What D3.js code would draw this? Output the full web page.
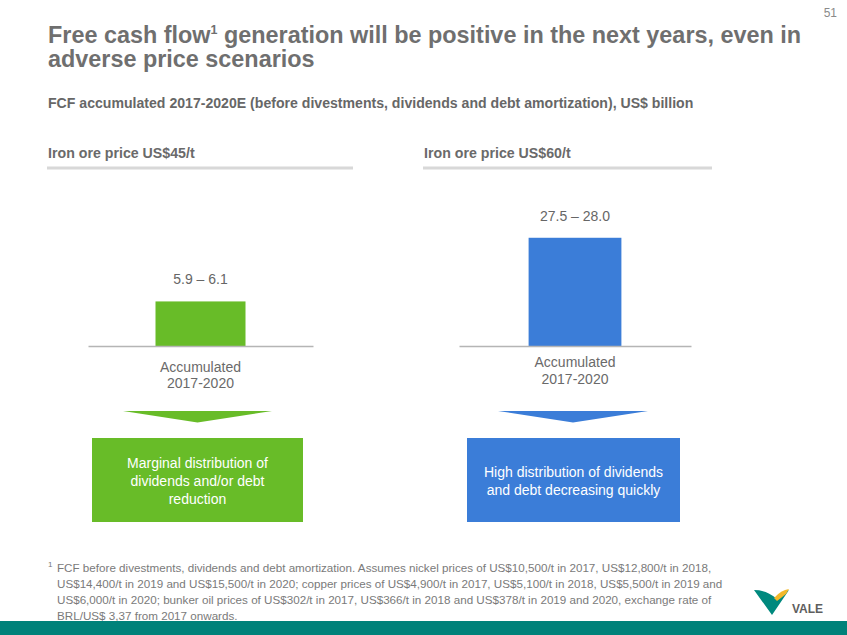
<!DOCTYPE html>
<html><head><meta charset="utf-8">
<script src="https://cdn.jsdelivr.net/npm/d3@7"></script>
<style>
html,body{margin:0;padding:0;background:#fff;}
svg{display:block;font-family:"Liberation Sans",Arial,sans-serif;}
</style></head>
<body><svg id="c" width="847" height="635"></svg>
<script>
// ---- data ----
const scenarios = ["Iron ore price US$45/t", "Iron ore price US$60/t"];
const categories = ["Accumulated 2017-2020"];
const fcfLow = [5.9, 27.5];
const fcfHigh = [6.1, 28.0];
const valueLabels = ["5.9 – 6.1", "27.5 – 28.0"];
const axisMax = [21, 40];
const outcomeTexts = [
  ["Marginal distribution of", "dividends and/or debt", "reduction"],
  ["High distribution of dividends", "and debt decreasing quickly"]
];
const colors = ["#68bc28", "#3b7dd8"];

const titleLines = ["Free cash flow", " generation will be positive in the next years, even in", "adverse price scenarios"];
const subtitle = "FCF accumulated 2017-2020E (before divestments, dividends and debt amortization), US$ billion";
const footLines = [
  "FCF before divestments, dividends and debt amortization. Assumes nickel prices of US$10,500/t in 2017, US$12,800/t in 2018,",
  "US$14,400/t in 2019 and US$15,500/t in 2020; copper prices of US$4,900/t in 2017, US$5,100/t in 2018, US$5,500/t in 2019 and",
  "US$6,000/t in 2020; bunker oil prices of US$302/t in 2017, US$366/t in 2018 and US$378/t in 2019 and 2020, exchange rate of",
  "BRL/US$ 3,37 from 2017 onwards."
];

// ---- layout ----
const svg = d3.select("#c");
const gray = "#6f6f6f";
const panels = [
  {hx: 48, hx2: 353, ax0: 88, ax1: 313, catDy: [26, 42], box: [92, 303], arrow: [123, 272]},
  {hx: 424, hx2: 712, ax0: 459, ax1: 691, catDy: [21, 38], box: [467, 680], arrow: [498, 648]}
];
const axisY = 346, plotTop = 190;

// page number
svg.append("text").attr("x", 837).attr("y", 17).attr("text-anchor", "end")
  .attr("font-size", 12).attr("fill", "#8a8a8a").text("51");

// title
const t1 = svg.append("text").attr("x", 48).attr("y", 43).attr("font-size", 23.4)
  .attr("font-weight", "bold").attr("fill", gray);
t1.append("tspan").text(titleLines[0]);
t1.append("tspan").attr("font-size", 12.5).attr("dy", -9).text("1");
t1.append("tspan").attr("dy", 9).text(titleLines[1]);
svg.append("text").attr("x", 48).attr("y", 67).attr("font-size", 23.4)
  .attr("font-weight", "bold").attr("fill", gray).text(titleLines[2]);

// subtitle
svg.append("text").attr("x", 48).attr("y", 108).attr("font-size", 14.1)
  .attr("font-weight", "bold").attr("fill", "#676767").text(subtitle);

panels.forEach((p, i) => {
  // header
  svg.append("text").attr("x", p.hx).attr("y", 158).attr("font-size", 14.2)
    .attr("font-weight", "bold").attr("fill", "#6a6a6a").text(scenarios[i]);
  svg.append("line").attr("x1", p.hx - 1).attr("x2", p.hx2).attr("y1", 168).attr("y2", 168)
    .attr("stroke", "#d8d8d8").attr("stroke-width", 3);

  const x = d3.scaleBand().domain(categories).range([p.ax0, p.ax1])
    .paddingInner(0.6).paddingOuter(0.3);
  const y = d3.scaleLinear().domain([0, axisMax[i]]).range([axisY, plotTop]);
  const v = (fcfLow[i] + fcfHigh[i]) / 2;
  const g = svg.append("g");

  g.selectAll("rect.bar").data([v]).join("rect").attr("class", "bar")
    .attr("x", x(categories[0])).attr("width", x.bandwidth())
    .attr("y", d => y(d)).attr("height", d => y(0) - y(d))
    .attr("fill", colors[i]);

  const xAxis = d3.axisBottom(x).tickSize(0).tickFormat("");
  const ag = g.append("g").attr("transform", `translate(0,${axisY})`).call(xAxis);
  ag.select(".domain").attr("stroke", "#b5b5b5").attr("stroke-width", 1.5);

  const cx = x(categories[0]) + x.bandwidth() / 2;
  g.append("text").attr("x", cx).attr("y", y(v) - 17).attr("text-anchor", "middle")
    .attr("font-size", 14).attr("fill", "#666").text(valueLabels[i]);

  const parts = ["Accumulated", "2017-2020"];
  parts.forEach((s, k) => {
    g.append("text").attr("x", cx).attr("y", axisY + p.catDy[k]).attr("text-anchor", "middle")
      .attr("font-size", 14).attr("fill", "#6a6a6a").text(s);
  });

  // arrow
  const am = (p.arrow[0] + p.arrow[1]) / 2;
  svg.append("path")
    .attr("d", `M${p.arrow[0]},411 L${p.arrow[1]},411 L${am},422.5 Z`)
    .attr("fill", colors[i]);

  // box
  svg.append("rect").attr("x", p.box[0]).attr("y", 438).attr("width", p.box[1] - p.box[0])
    .attr("height", 84).attr("fill", colors[i]);
  const bc = (p.box[0] + p.box[1]) / 2;
  const lines = outcomeTexts[i];
  const lh = 18;
  const startY = 481 - (lines.length - 1) * lh / 2 + 5;
  lines.forEach((s, k) => {
    svg.append("text").attr("x", bc).attr("y", startY + k * lh).attr("text-anchor", "middle")
      .attr("font-size", 14).attr("fill", "#fff").text(s);
  });
});

// footnote
svg.append("text").attr("x", 48).attr("y", 567).attr("font-size", 8).attr("fill", "#777").text("1");
footLines.forEach((s, k) => {
  svg.append("text").attr("x", 57).attr("y", 572 + k * 16).attr("font-size", 11.65)
    .attr("fill", "#7a7a7a").text(s);
});

// bottom band
svg.append("rect").attr("x", 0).attr("y", 621).attr("width", 847).attr("height", 14).attr("fill", "#00827a");

// logo
svg.append("path").attr("d", "M754,590 Q766,590 776,598 L789,590 L772,615 Z").attr("fill", "#00897e");
svg.append("path").attr("d", "M774,598 Q781,590 789,589 L786,594 Q781,598 777,601 Z").attr("fill", "#f2b82a");
svg.append("text").attr("x", 792).attr("y", 612.5).attr("font-size", 12).attr("font-weight", "bold")
  .attr("fill", "#5e5e5e").text("VALE");
</script></body></html>
